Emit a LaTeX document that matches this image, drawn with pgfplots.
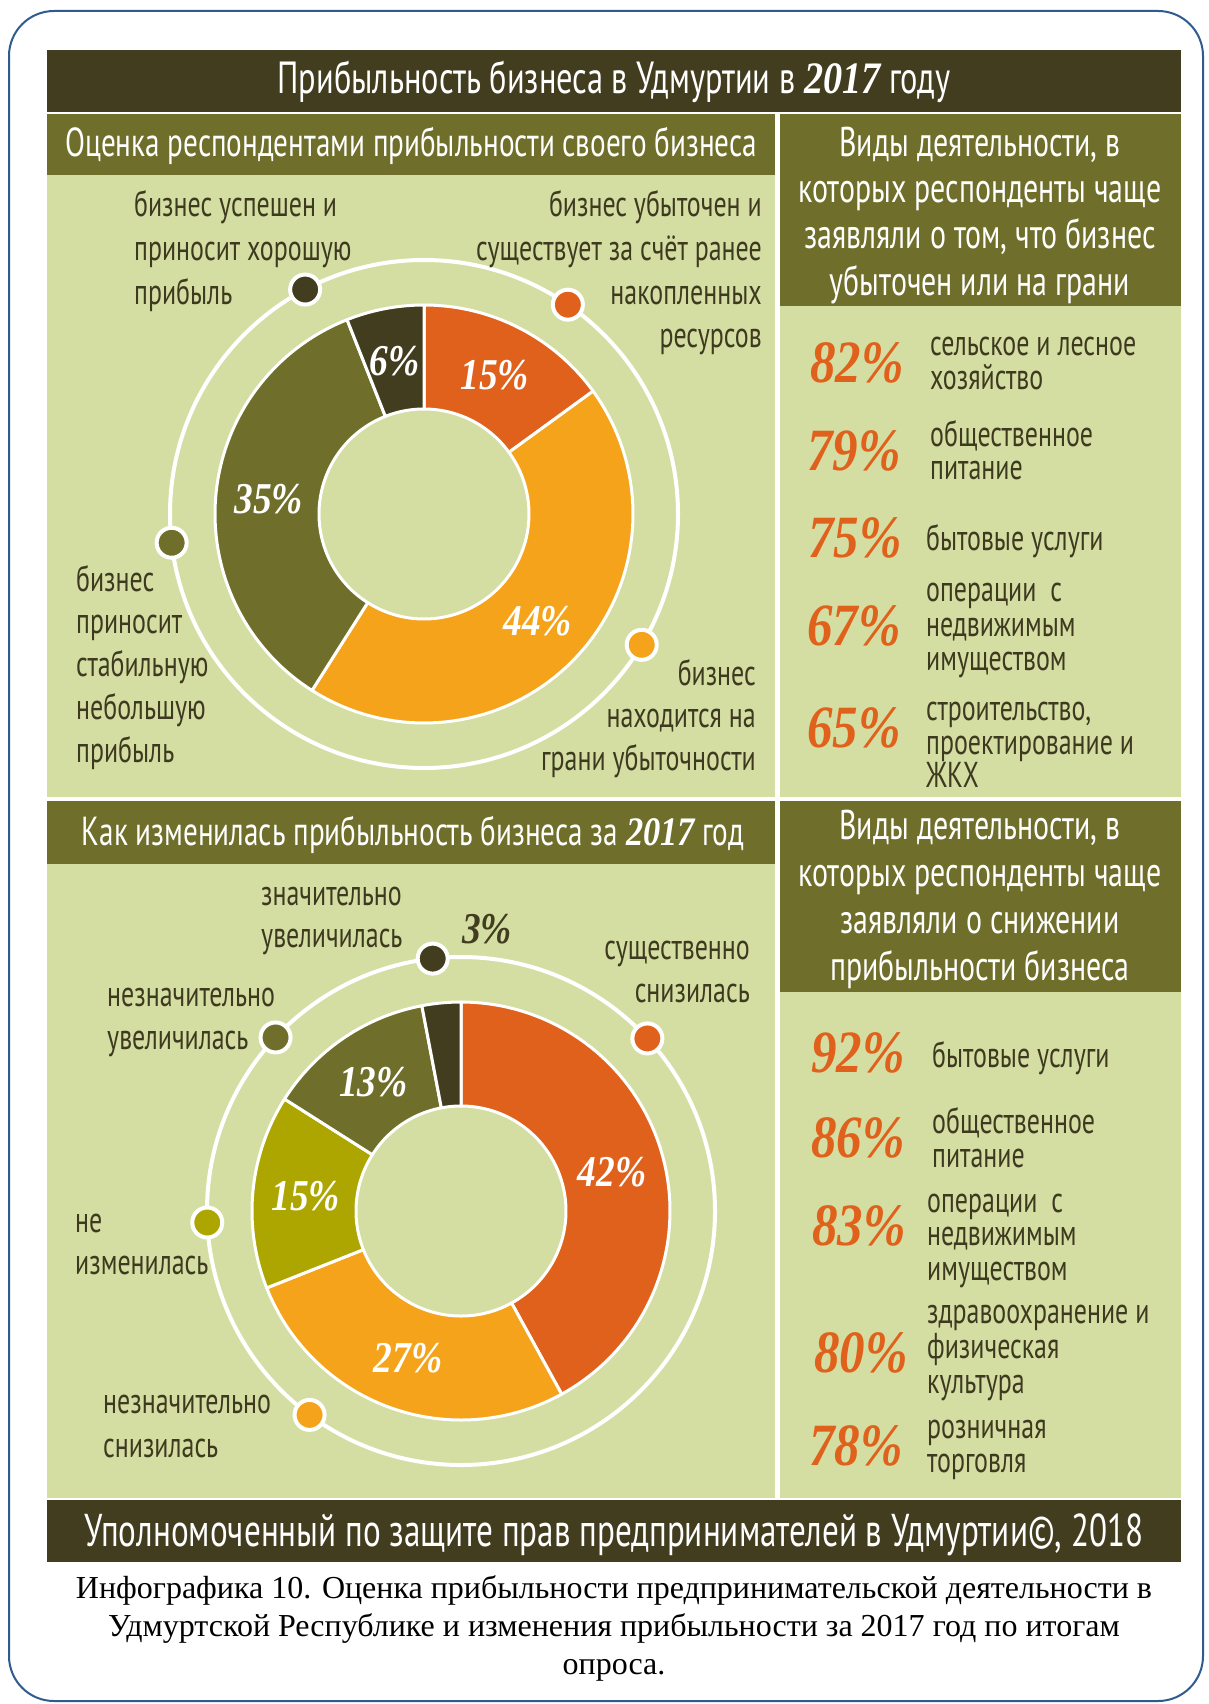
\documentclass[border=0pt]{standalone}
\usepackage{pgfplots}
\pgfplotsset{compat=1.18}
\usepackage{fontspec}
\setmainfont{Liberation Serif}
\newfontfamily\cond[FakeStretch=0.72]{PT Sans}
\newfontfamily\pctf[FakeStretch=0.85]{Liberation Serif}
\definecolor{cDark}{HTML}{433D20}
\definecolor{cOlive}{HTML}{6F6F2B}
\definecolor{cRed}{HTML}{E0611B}
\definecolor{cOrange}{HTML}{F5A31A}
\definecolor{cYel}{HTML}{ADA500}
\definecolor{cPanel}{HTML}{D4DEA3}
\definecolor{cText}{HTML}{3E3A1F}
\definecolor{cBlue}{HTML}{2F5B8E}
\newcommand{\Ro}{209}
\newcommand{\Ri}{105}
% slice: #1 cumulative start (%), #2 value (%), #3 colour, #4 label
\newcommand{\slice}[4]{%
  \fill[#3, draw=white, line width=3pt, line join=round] plot[domain=90-3.6*#1:90-3.6*(#1+#2), samples=72, variable=\t] ({\Ro*cos(\t)},{\Ro*sin(\t)}) -- plot[domain=90-3.6*(#1+#2):90-3.6*#1, samples=72, variable=\t] ({\Ri*cos(\t)},{\Ri*sin(\t)}) -- cycle;
  \node[font=\pctf\bfseries\itshape\fontsize{44}{44}\selectfont, text=white] at ({156*cos(90-3.6*(#1+#2/2))},{156*sin(90-3.6*(#1+#2/2))}) {#4};}
\newcommand{\rdot}[2]{\fill[#2, draw=white, line width=4pt] ({254*cos(#1)},{254*sin(#1)}) circle[radius=15];}
\tikzset{
 L/.style={font=\cond\fontsize{36}{40}\selectfont, text=cText, inner sep=0pt},
 H/.style={font=\cond\fontsize{40.5}{44}\selectfont, text=white, inner sep=0pt, anchor=base},
 R/.style={font=\cond\fontsize{41.5}{44}\selectfont, text=white, inner sep=0pt, anchor=base},
 P/.style={font=\pctf\bfseries\itshape\fontsize{60}{60}\selectfont, text=cRed, inner sep=0pt, anchor=base east},
}
\begin{document}
\begin{tikzpicture}[x=1pt,y=1pt]
\fill[white] (0,0) rectangle (1209,-1704);
\path[use as bounding box] (0,0) rectangle (1209,-1704);
\draw[cBlue, line width=2pt, rounded corners=45pt] (9,-11) rectangle (1203,-1701);
% panels
\fill[cDark] (47,-50) rectangle (1181,-112);
\fill[cOlive] (47,-114) rectangle (775,-175);
\fill[cPanel] (47,-175) rectangle (775,-797);
\fill[cOlive] (780,-114) rectangle (1181,-306);
\fill[cPanel] (780,-306) rectangle (1181,-797);
\fill[cOlive] (47,-801) rectangle (775,-864);
\fill[cPanel] (47,-864) rectangle (775,-1498);
\fill[cOlive] (780,-801) rectangle (1181,-992);
\fill[cPanel] (780,-992) rectangle (1181,-1498);
\fill[cDark] (47,-1500) rectangle (1181,-1562);

% donut 1
\begin{axis}[at={(424,-514)}, anchor=origin, width=600pt, height=600pt, scale only axis,
  xmin=-300, xmax=300, ymin=-300, ymax=300, hide axis, clip=false]
\draw[white, line width=4pt] (0,0) circle[radius=254];
\rdot{117.9}{cDark}
\rdot{55.5}{cRed}
\rdot{186.5}{cOlive}
\rdot{-31}{cOrange}
\slice{0}{15}{cRed}{15\%}
\slice{15}{44}{cOrange}{44\%}
\slice{59}{35}{cOlive}{35\%}
\slice{94}{6}{cDark}{6\%}
\end{axis}

% donut 2
\begin{axis}[at={(461,-1211)}, anchor=origin, width=600pt, height=600pt, scale only axis,
  xmin=-300, xmax=300, ymin=-300, ymax=300, hide axis, clip=false]
\draw[white, line width=4pt] (0,0) circle[radius=254];
\rdot{96.4}{cDark}
\rdot{42.8}{cRed}
\rdot{136.9}{cOlive}
\rdot{182.6}{cYel}
\rdot{233.4}{cOrange}
\slice{0}{42}{cRed}{42\%}
\slice{42}{27}{cOrange}{27\%}
\slice{69}{15}{cYel}{15\%}
\slice{84}{13}{cOlive}{13\%}
\slice{97}{3}{cDark}{}
\end{axis}

% headers
\node[H, font=\cond\fontsize{45}{48}\selectfont] at (614,-94) {Прибыльность бизнеса в Удмуртии в {\pctf\bfseries\itshape 2017} году};
\node[H] at (411,-157) {Оценка респондентами прибыльности своего бизнеса};
\node[R] at (980,-157) {Виды деятельности, в};
\node[R] at (980,-203) {которых респонденты чаще};
\node[R] at (980,-249) {заявляли о том, что бизнес};
\node[R] at (980,-295) {убыточен или на грани};
\node[H] at (413,-845) {Как изменилась прибыльность бизнеса за {\pctf\bfseries\itshape 2017} год};
\node[R] at (980,-839) {Виды деятельности, в};
\node[R] at (980,-886) {которых респонденты чаще};
\node[R] at (980,-933) {заявляли о снижении};
\node[R] at (980,-980) {прибыльности бизнеса};
\node[H, font=\cond\fontsize{46}{48}\selectfont] at (614,-1546) {Уполномоченный по защите прав предпринимателей в Удмуртии©, 2018};

% donut 1 labels
\node[L, anchor=base west] at (134,-217) {бизнес успешен и};
\node[L, anchor=base west] at (134,-261) {приносит хорошую};
\node[L, anchor=base west] at (134,-304) {прибыль};
\node[L, anchor=base east] at (762,-217) {бизнес убыточен и};
\node[L, anchor=base east] at (762,-261) {существует за счёт ранее};
\node[L, anchor=base east] at (762,-304) {накопленных};
\node[L, anchor=base east] at (762,-347) {ресурсов};
\node[L, anchor=base west] at (76,-591) {бизнес};
\node[L, anchor=base west] at (76,-633) {приносит};
\node[L, anchor=base west] at (76,-676) {стабильную};
\node[L, anchor=base west] at (76,-719) {небольшую};
\node[L, anchor=base west] at (76,-762) {прибыль};
\node[L, anchor=base east] at (756,-685) {бизнес};
\node[L, anchor=base east] at (756,-727) {находится на};
\node[L, anchor=base east] at (756,-770) {грани убыточности};

% donut 2 labels
\node[L, anchor=base west] at (261,-905) {значительно};
\node[L, anchor=base west] at (261,-947) {увеличилась};
\node[L, anchor=base west] at (107,-1006) {незначительно};
\node[L, anchor=base west] at (107,-1049) {увеличилась};
\node[L, anchor=base east] at (750,-959) {существенно};
\node[L, anchor=base east] at (750,-1002) {снизилась};
\node[L, anchor=base west] at (75,-1232) {не};
\node[L, anchor=base west] at (75,-1274) {изменилась};
\node[L, anchor=base west] at (103,-1413) {незначительно};
\node[L, anchor=base west] at (103,-1457) {снизилась};
\node[font=\pctf\bfseries\itshape\fontsize{44}{44}\selectfont, text=cDark, inner sep=0pt, anchor=base] at (487,-943) {3\%};

% right panel 1
\node[P] at (904,-382) {82\%};
\node[L, anchor=base west] at (930,-355) {сельское и лесное};
\node[L, anchor=base west] at (930,-389) {хозяйство};
\node[P] at (901,-470) {79\%};
\node[L, anchor=base west] at (930,-446) {общественное};
\node[L, anchor=base west] at (930,-479) {питание};
\node[P] at (902,-557) {75\%};
\node[L, anchor=base west] at (926,-550) {бытовые услуги};
\node[P] at (901,-645) {67\%};
\node[L, anchor=base west] at (926,-601) {операции~~с};
\node[L, anchor=base west] at (926,-636) {недвижимым};
\node[L, anchor=base west] at (926,-670) {имуществом};
\node[P] at (901,-747) {65\%};
\node[L, anchor=base west] at (926,-720) {строительство,};
\node[L, anchor=base west] at (926,-754) {проектирование и};
\node[L, anchor=base west] at (926,-787) {ЖКХ};

% right panel 2
\node[P] at (905,-1072) {92\%};
\node[L, anchor=base west] at (932,-1067) {бытовые услуги};
\node[P] at (905,-1157) {86\%};
\node[L, anchor=base west] at (932,-1133) {общественное};
\node[L, anchor=base west] at (932,-1167) {питание};
\node[P] at (906,-1245) {83\%};
\node[L, anchor=base west] at (927,-1212) {операции~~с};
\node[L, anchor=base west] at (927,-1245) {недвижимым};
\node[L, anchor=base west] at (927,-1280) {имуществом};
\node[P] at (908,-1372) {80\%};
\node[L, anchor=base west] at (927,-1323) {здравоохранение и};
\node[L, anchor=base west] at (927,-1358) {физическая};
\node[L, anchor=base west] at (927,-1393) {культура};
\node[P] at (903,-1465) {78\%};
\node[L, anchor=base west] at (927,-1438) {розничная};
\node[L, anchor=base west] at (927,-1472) {торговля};

% caption
\node[font=\fontsize{32}{36}\selectfont, inner sep=0pt, anchor=base] at (614,-1598) {Инфографика 10. Оценка прибыльности предпринимательской деятельности в};
\node[font=\fontsize{32}{36}\selectfont, inner sep=0pt, anchor=base] at (614,-1636) {Удмуртской Республике и изменения прибыльности за 2017 год по итогам};
\node[font=\fontsize{32}{36}\selectfont, inner sep=0pt, anchor=base] at (614,-1674) {опроса.};
\end{tikzpicture}
\end{document}
